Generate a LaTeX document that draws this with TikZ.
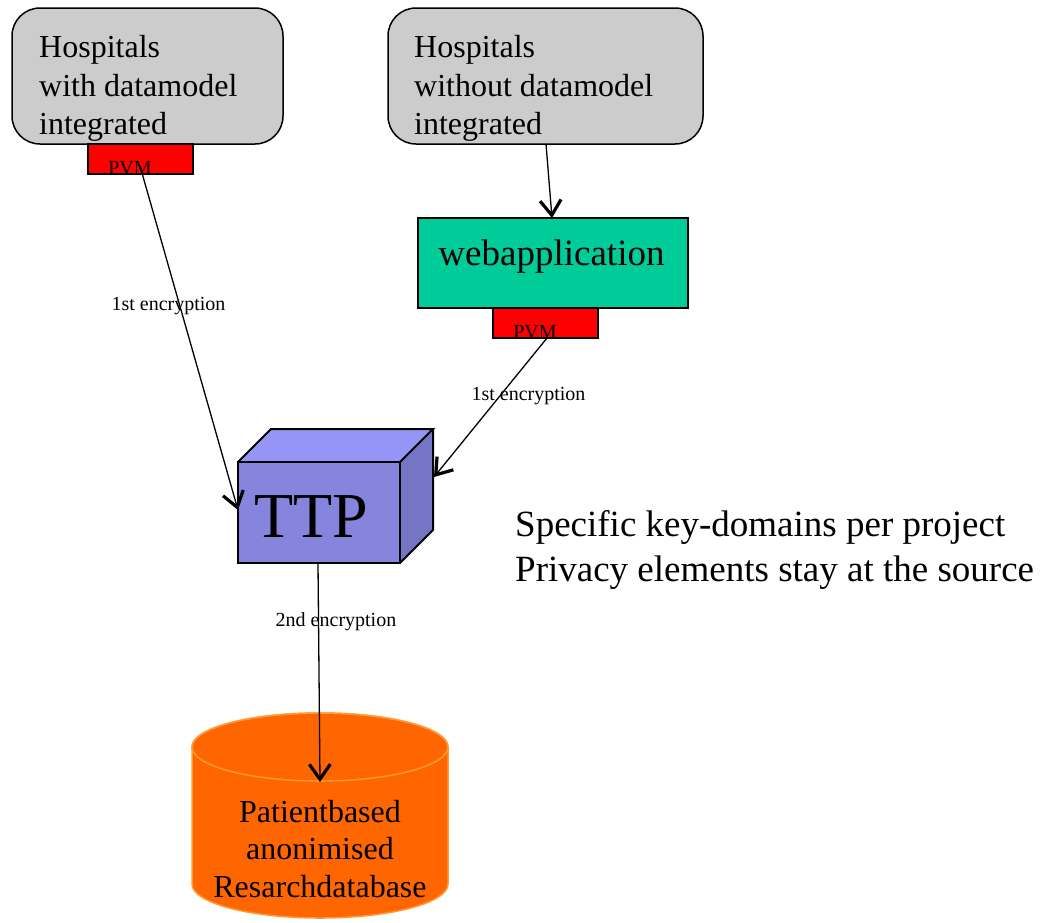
\documentclass[tikz,border=0pt]{standalone}
\usepackage{fontspec}
\setmainfont{Liberation Serif}
\usetikzlibrary{arrows.meta}
\definecolor{boxgray}{HTML}{CCCCCC}
\definecolor{webgreen}{HTML}{00CC99}
\definecolor{pvmred}{HTML}{FF0000}
\definecolor{ttpfront}{HTML}{8585DD}
\definecolor{ttptop}{HTML}{9595F5}
\definecolor{ttpright}{HTML}{7575C5}
\definecolor{dborange}{HTML}{FF6600}
\definecolor{dbedge}{HTML}{FF9933}
\tikzset{
  hospbox/.style={draw=black, line width=1.5pt, fill=boxgray, rounded corners=28pt, minimum width=271pt, minimum height=136pt, inner sep=0pt},
  webbox/.style={draw=black, line width=1.5pt, fill=webgreen, minimum width=270pt, minimum height=90pt, inner sep=0pt},
  pvmbox/.style={draw=black, line width=1.2pt, fill=pvmred, minimum width=105pt, minimum height=30pt, inner sep=0pt},
  bigtext/.style={font=\fontsize{32}{38.5}\selectfont, align=left, inner sep=0pt, anchor=north west},
  dbtext/.style={font=\fontsize{32}{37.5}\selectfont, align=center, inner sep=0pt, anchor=north},
  pvmtext/.style={font=\fontsize{20}{24}\selectfont, inner sep=0pt, anchor=base},
  enclabel/.style={font=\fontsize{20}{24}\selectfont, inner sep=0pt, anchor=base},
  conn/.style={draw=black, line width=1.3pt, -{Straight Barb[length=15pt, width=21pt, line width=3.2pt]}},
  ttpface/.style={draw=black, line width=2pt, line join=miter},
}
\begin{document}
\begin{tikzpicture}[x=1pt, y=-1pt]
\useasboundingbox (0,0) rectangle (1048,922);

% hospitals boxes
\node[hospbox] (h1) at (147.5,76) {};
\node[bigtext] (h1t) at (39,35.1) {Hospitals\\with datamodel\\integrated};
\node[hospbox, minimum width=315pt] (h2) at (545.5,76) {};
\node[bigtext] (h2t) at (414,35.1) {Hospitals\\without datamodel\\integrated};

% PVM 1
\node[pvmbox] (p1) at (140.5,159) {};
\node[pvmtext] (p1t) at (130,174) {PVM};
\draw[black, line width=1.2pt] (p1.south west) -- (p1.south east);

% webapplication
\node[webbox] (web) at (553,263) {};
\node[font=\fontsize{37}{44}\selectfont, inner sep=0pt, anchor=base] (webt) at (551.5,265) {webapplication};

% PVM 2
\node[pvmbox] (p2) at (545.5,323) {};
\node[pvmtext] (p2t) at (535,338) {PVM};
\draw[black, line width=1.2pt] (p2.south west) -- (p2.south east);

% TTP cube
\fill[ttptop] (238,462) -- (271,429) -- (433,429) -- (400,462) -- cycle;
\fill[ttpright] (400,462) -- (433,429) -- (433,530) -- (400,563) -- cycle;
\node[ttpface, fill=ttpfront, minimum width=162pt, minimum height=101pt, inner sep=0pt] (ttp) at (319,512.5) {};
\draw[ttpface] (238,462) -- (271,429) -- (433,429) -- (400,462);
\draw[ttpface] (433,429) -- (433,530) -- (400,563);
\node[font=\fontsize{64}{70}\selectfont, inner sep=0pt, anchor=base] (ttpt) at (311,537) {TTP};

% database cylinder
\draw[dbedge, fill=dborange, line width=1.5pt] (192,747) -- (192,884) arc[start angle=180, end angle=0, x radius=128, y radius=34] -- (448,747) arc[start angle=0, end angle=-180, x radius=128, y radius=34] -- cycle;
\draw[dbedge, line width=1.5pt] (320,747) ellipse[x radius=128, y radius=34];
\node[dbtext] (dbt) at (320,800) {Patientbased\\anonimised\\Resarchdatabase};

% connector end points
\coordinate (c1s) at (140,166);
\coordinate (c1e) at (238,510);
\coordinate (c2s) at (546,144);
\coordinate (c2e) at (552,218);
\coordinate (c3s) at (547,338);
\coordinate (c3e) at (434,477);
\coordinate (c4s) at (318,563);
\coordinate (c4e) at (320,782);

\draw[conn] (c1s) -- (c1e);
\draw[conn] (c2s) -- (c2e);
\draw[conn] (c3s) -- (c3e);
\draw[conn] (c4s) -- (c4e);

% labels
\node[enclabel] (l1) at (168.5,310) {1st encryption};
\node[enclabel] (l2) at (528.5,400) {1st encryption};
\node[enclabel] (l3) at (336,626) {2nd encryption};

% side text
\node[font=\fontsize{37}{45}\selectfont, inner sep=0pt, anchor=base west] (s1) at (515,536) {Specific key-domains per project};
\node[font=\fontsize{37}{45}\selectfont, inner sep=0pt, anchor=base west] (s2) at (515,581) {Privacy elements stay at the source};
\end{tikzpicture}
\end{document}
